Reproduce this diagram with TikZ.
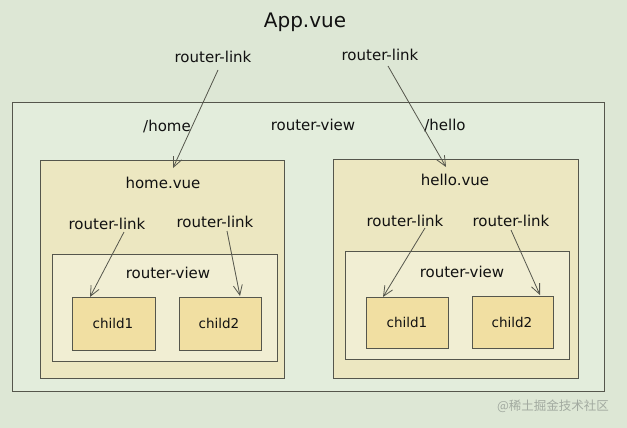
\documentclass[tikz,border=0pt]{standalone}
\usepackage{fontspec}
\setmainfont{DejaVu Sans}
\newfontfamily\cjk{Noto Sans CJK SC}
\usetikzlibrary{arrows.meta}
\definecolor{bgc}{HTML}{DDE7D5}
\definecolor{outerc}{HTML}{E3EDDC}
\definecolor{vuec}{HTML}{ECE7C1}
\definecolor{rvc}{HTML}{F1EED3}
\definecolor{childc}{HTML}{F1DFA2}
\definecolor{linec}{HTML}{55564C}
\definecolor{txtc}{HTML}{111111}
\definecolor{wmc}{HTML}{A2AAA0}
\begin{document}
\begin{tikzpicture}[x=1pt,y=-1pt,
  box/.style={draw=linec, line width=0.9pt, anchor=north west, inner sep=0pt, outer sep=0pt},
  lbl/.style={text=txtc, font=\fontsize{15}{17}\selectfont, inner sep=1pt},
  clbl/.style={text=txtc, font=\fontsize{13.5}{15}\selectfont, inner sep=1pt},
  arr/.style={draw=linec, line width=0.8pt, -{Straight Barb[length=10pt,width=9pt]}}]
\fill[bgc] (0,0) rectangle (627,428);
\useasboundingbox (0,0) rectangle (627,428);
% boxes
\node[box, fill=outerc, minimum width=592pt, minimum height=289pt] (outer) at (12,102) {};
\node[box, fill=vuec, minimum width=244pt, minimum height=218pt] (homebox) at (40,160) {};
\node[box, fill=rvc, minimum width=225pt, minimum height=107pt] (rvL) at (52,254) {};
\node[box, fill=childc, minimum width=83pt, minimum height=53pt] (c1L) at (72,297) {};
\node[box, fill=childc, minimum width=82pt, minimum height=53pt] (c2L) at (179,297) {};
\node[box, fill=vuec, minimum width=245pt, minimum height=219pt] (hellobox) at (333,159) {};
\node[box, fill=rvc, minimum width=224pt, minimum height=108pt] (rvR) at (345,251) {};
\node[box, fill=childc, minimum width=82pt, minimum height=51pt] (c1R) at (366,297) {};
\node[box, fill=childc, minimum width=81pt, minimum height=52pt] (c2R) at (472,296) {};
% labels
\node[text=txtc, font=\fontsize{20}{23}\selectfont] (app) at (305,22) {App.vue};
\node[lbl] (rlA) at (213,57) {router-link};
\node[lbl] (rlB) at (380,55) {router-link};
\node[lbl] (homep) at (167,126) {/home};
\node[lbl] (rvO) at (313,125) {router-view};
\node[lbl] (hellop) at (445,125) {/hello};
\node[lbl] (homev) at (163,183) {home.vue};
\node[lbl] (rlC) at (107,224) {router-link};
\node[lbl] (rlD) at (215,222) {router-link};
\node[lbl] (rvLt) at (168,273) {router-view};
\node[clbl] (c1Lt) at (113,323) {child1};
\node[clbl] (c2Lt) at (219,323) {child2};
\node[lbl] (hellov) at (455,180) {hello.vue};
\node[lbl] (rlE) at (405,221) {router-link};
\node[lbl] (rlF) at (511,221) {router-link};
\node[lbl] (rvRt) at (462,272) {router-view};
\node[clbl] (c1Rt) at (407,322) {child1};
\node[clbl] (c2Rt) at (512,322) {child2};
\node[text=wmc, font=\cjk\fontsize{12.5}{14}\selectfont] (wm) at (553,406) {@稀土掘金技术社区};
% arrow ends
\coordinate (tA) at (173,168);
\coordinate (tB) at (446,167);
\coordinate (tC) at (90,297);
\coordinate (tD) at (240,296);
\coordinate (tE) at (383,297);
\coordinate (tF) at (540,295);
\coordinate (sA) at (218,70);
\coordinate (sB) at (388,66);
\coordinate (sC) at (124,232);
\coordinate (sD) at (227,231);
\coordinate (sE) at (425,228);
\coordinate (sF) at (511,230);
\draw[arr] (sA) -- (tA);
\draw[arr] (sB) -- (tB);
\draw[arr] (sC) -- (tC);
\draw[arr] (sD) -- (tD);
\draw[arr] (sE) -- (tE);
\draw[arr] (sF) -- (tF);
\end{tikzpicture}
\end{document}
